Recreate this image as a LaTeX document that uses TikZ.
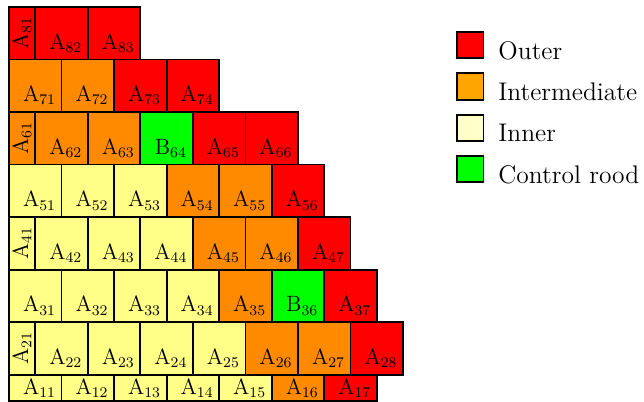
\documentclass[tikz,border=0pt]{standalone}
\usepackage{amsmath}
\usepackage{tikz}
\usetikzlibrary{positioning}

\definecolor{coreout}{RGB}{255,0,0}
\definecolor{coremid}{RGB}{255,138,0}
\definecolor{corein}{RGB}{255,255,136}
\definecolor{ctrlrod}{RGB}{0,255,0}
\definecolor{keymid}{RGB}{255,165,0}
\definecolor{keyin}{RGB}{255,255,200}

\tikzset{
  cellbox/.style={draw=black, line width=1pt},
  celltext/.style={inner sep=0pt, font=\large},
  keybox/.style={draw=black, line width=1pt, minimum size=0.5cm, inner sep=0pt},
  keytext/.style={inner sep=0pt, font=\fontsize{13.8}{16}\selectfont, anchor=base west}
}

% full assembly: x, y, colour, letter, index
\newcommand{\fuel}[5]{%
  \draw[cellbox, fill=#3] (#1,#2) rectangle ++(1,1);
  \node[celltext] (#4#5) at (#1+0.58,#2+0.31) {$\mathrm{#4}_{#5}$};
}
% half assembly on the symmetry line: y, colour, letter, index
\newcommand{\halffuel}[4]{%
  \draw[cellbox, fill=#2] (0,#1) rectangle ++(0.5,1);
  \node[celltext, rotate=90] (#3#4) at (0.25,#1+0.5) {$\mathrm{#3}_{#4}$};
}
% bottom row, cut in half: x, colour, letter, index
\newcommand{\bottomfuel}[4]{%
  \draw[cellbox, fill=#2] (#1,0) rectangle ++(1,0.5);
  \node[celltext] (#3#4) at (#1+0.58,0.24) {$\mathrm{#3}_{#4}$};
}

\begin{document}
\begin{tikzpicture}
\useasboundingbox (-0.171,0) rectangle (12.084,7.631);

% row 1
\bottomfuel{0}{corein}{A}{11}
\bottomfuel{1}{corein}{A}{12}
\bottomfuel{2}{corein}{A}{13}
\bottomfuel{3}{corein}{A}{14}
\bottomfuel{4}{corein}{A}{15}
\bottomfuel{5}{coremid}{A}{16}
\bottomfuel{6}{coreout}{A}{17}

% row 2
\halffuel{0.5}{corein}{A}{21}
\fuel{0.5}{0.5}{corein}{A}{22}
\fuel{1.5}{0.5}{corein}{A}{23}
\fuel{2.5}{0.5}{corein}{A}{24}
\fuel{3.5}{0.5}{corein}{A}{25}
\fuel{4.5}{0.5}{coremid}{A}{26}
\fuel{5.5}{0.5}{coremid}{A}{27}
\fuel{6.5}{0.5}{coreout}{A}{28}

% row 3
\fuel{0}{1.5}{corein}{A}{31}
\fuel{1}{1.5}{corein}{A}{32}
\fuel{2}{1.5}{corein}{A}{33}
\fuel{3}{1.5}{corein}{A}{34}
\fuel{4}{1.5}{coremid}{A}{35}
\fuel{5}{1.5}{ctrlrod}{B}{36}
\fuel{6}{1.5}{coreout}{A}{37}

% row 4
\halffuel{2.5}{corein}{A}{41}
\fuel{0.5}{2.5}{corein}{A}{42}
\fuel{1.5}{2.5}{corein}{A}{43}
\fuel{2.5}{2.5}{corein}{A}{44}
\fuel{3.5}{2.5}{coremid}{A}{45}
\fuel{4.5}{2.5}{coremid}{A}{46}
\fuel{5.5}{2.5}{coreout}{A}{47}

% row 5
\fuel{0}{3.5}{corein}{A}{51}
\fuel{1}{3.5}{corein}{A}{52}
\fuel{2}{3.5}{corein}{A}{53}
\fuel{3}{3.5}{coremid}{A}{54}
\fuel{4}{3.5}{coremid}{A}{55}
\fuel{5}{3.5}{coreout}{A}{56}

% row 6
\halffuel{4.5}{coremid}{A}{61}
\fuel{0.5}{4.5}{coremid}{A}{62}
\fuel{1.5}{4.5}{coremid}{A}{63}
\fuel{2.5}{4.5}{ctrlrod}{B}{64}
\fuel{3.5}{4.5}{coreout}{A}{65}
\fuel{4.5}{4.5}{coreout}{A}{66}

% row 7
\fuel{0}{5.5}{coremid}{A}{71}
\fuel{1}{5.5}{coremid}{A}{72}
\fuel{2}{5.5}{coreout}{A}{73}
\fuel{3}{5.5}{coreout}{A}{74}

% row 8
\halffuel{6.5}{coreout}{A}{81}
\fuel{0.5}{6.5}{coreout}{A}{82}
\fuel{1.5}{6.5}{coreout}{A}{83}

% legend
\node[keybox, fill=coreout] (kout) at (8.78,6.77) {};
\node[keybox, fill=keymid, below=0.25cm of kout] (kmid) {};
\node[keybox, fill=keyin, below=0.25cm of kmid] (kin) {};
\node[keybox, fill=ctrlrod, below=0.25cm of kin] (krod) {};
\node[keytext] (tout) at ([xshift=0.26cm]kout.south east) {Outer};
\node[keytext] (tmid) at ([xshift=0.26cm]kmid.south east) {Intermediate};
\node[keytext] (tin) at ([xshift=0.26cm]kin.south east) {Inner};
\node[keytext] (trod) at ([xshift=0.26cm]krod.south east) {Control rood};
\end{tikzpicture}
\end{document}
